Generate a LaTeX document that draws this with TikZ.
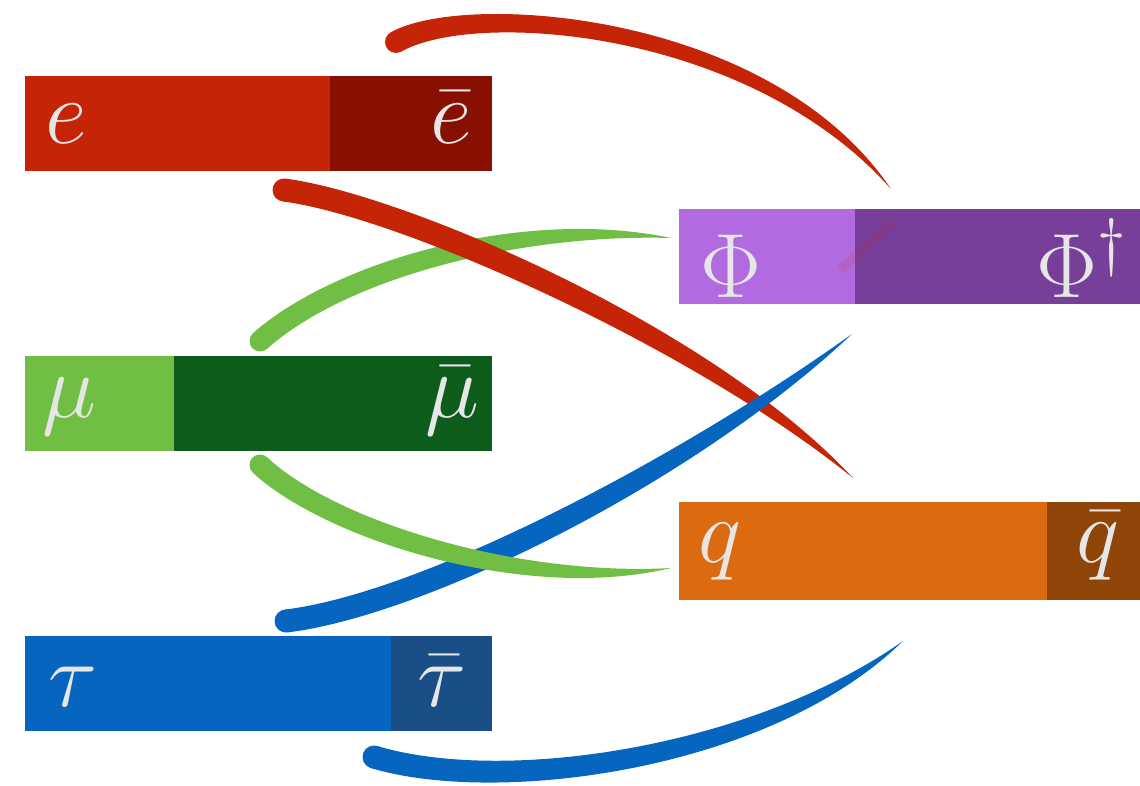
\RequirePackage{fix-cm}
\documentclass[tikz,border=0pt]{standalone}
\usepackage{amsmath}
\usetikzlibrary{positioning,calc}

\definecolor{eLight}{HTML}{C52406}
\definecolor{eDark}{HTML}{871003}
\definecolor{muLight}{HTML}{70BF44}
\definecolor{muDark}{HTML}{0D5C1B}
\definecolor{tauLight}{HTML}{0565BF}
\definecolor{tauDark}{HTML}{194F86}
\definecolor{phiLight}{HTML}{B16AE0}
\definecolor{phiDark}{HTML}{773E9A}
\definecolor{qLight}{HTML}{DC6A10}
\definecolor{qDark}{HTML}{904508}
\definecolor{labelgrey}{HTML}{E6E6E6}

\tikzset{
  box/.style={rectangle, inner sep=0pt, outer sep=0pt, minimum height=1.9cm},
  lbl/.style={text=labelgrey, inner sep=0pt, font=\fontsize{52}{60}\selectfont},
}

% colour, start, control 1, control 2, end, half width
\newcommand\brushstroke[6]{%
  \fill[#1] ($(#2)!#6!90:(#3)$) .. controls ($(#3)!#6!-90:(#2)$) and ($(#4)!{1.3*#6}!90:(#5)$) .. (#5)
    .. controls ($(#4)!{1.3*#6}!-90:(#5)$) and ($(#3)!#6!90:(#2)$) .. ($(#2)!#6!-90:(#3)$) -- cycle;
  \fill[#1] (#2) circle[radius=#6];
}

\begin{document}
\begin{tikzpicture}[x=0.02cm, y=-0.02cm]
    \useasboundingbox (0,0) rectangle (1140,785);

    \node(e)[box, fill=eLight, minimum width=6.1cm, anchor=north west] at (25,76) {};
    \node(ebar)[box, fill=eDark, minimum width=3.24cm, right=0pt of e] {};
    \node(mu)[box, fill=muLight, minimum width=2.98cm, anchor=north west] at (25,356) {};
    \node(mubar)[box, fill=muDark, minimum width=6.36cm, right=0pt of mu] {};
    \node(tau)[box, fill=tauLight, minimum width=7.32cm, anchor=north west] at (25,636) {};
    \node(taubar)[box, fill=tauDark, minimum width=2.02cm, right=0pt of tau] {};
    \node(phi)[box, fill=phiLight, minimum width=3.52cm, anchor=north west] at (679,209) {};
    \node(phibar)[box, fill=phiDark, minimum width=5.7cm, right=0pt of phi] {};
    \node(q)[box, fill=qLight, minimum width=7.36cm, minimum height=1.96cm, anchor=north west] at (679,502) {};
    \node(qbar)[box, fill=qDark, minimum width=1.86cm, minimum height=1.96cm, right=0pt of q] {};

    \node(etext)[lbl, anchor=base west] at (45,143) {$e$};
    \node(ebartext)[lbl, anchor=base east] at (472,143) {$\bar{e}$};
    \node(mutext)[lbl, anchor=base west] at (42,417) {$\mu$};
    \node(mubartext)[lbl, anchor=base east] at (480,417) {$\bar{\mu}$};
    \node(tautext)[lbl, anchor=base west] at (48,706) {$\tau$};
    \node(taubartext)[lbl, anchor=base east] at (467,706) {$\bar{\tau}$};
    \node(phitext)[lbl, anchor=base west] at (700,297) {$\Phi$};
    \node(phibartext)[lbl, anchor=base east] at (1127,297) {$\Phi^\dagger$};
    \node(qtext)[lbl, anchor=base west] at (698,562) {$q$};
    \node(qbartext)[lbl, anchor=base east] at (1120,562) {$\bar{q}$};

    \coordinate(redtopA) at (396,42);
    \coordinate(redtopB) at (891,189);
    \coordinate(redmidA) at (284,190);
    \coordinate(redmidB) at (853,478);
    \coordinate(greenupA) at (260,341);
    \coordinate(greenupB) at (671,238);
    \coordinate(greenlowA) at (260,465);
    \coordinate(greenlowB) at (671,568);
    \coordinate(bluemidA) at (286,621);
    \coordinate(bluemidB) at (852,334);
    \coordinate(bluelowA) at (374,757);
    \coordinate(bluelowB) at (903,641);

    \brushstroke{muLight}{greenupA}{340,270}{520,220}{greenupB}{0.21cm}
    \brushstroke{eLight}{redtopA}{470,0}{760,20}{redtopB}{0.22cm}
    \brushstroke{eLight}{redmidA}{400,205}{700,335}{redmidB}{0.23cm}
    \brushstroke{tauLight}{bluemidA}{420,605}{680,475}{bluemidB}{0.23cm}
    \brushstroke{tauLight}{bluelowA}{500,795}{760,760}{bluelowB}{0.23cm}
    \brushstroke{muLight}{greenlowA}{330,530}{520,590}{greenlowB}{0.21cm}
    \draw[eLight, opacity=0.12, line width=0.18cm] (840,270) -- (893,222);
\end{tikzpicture}
\end{document}
